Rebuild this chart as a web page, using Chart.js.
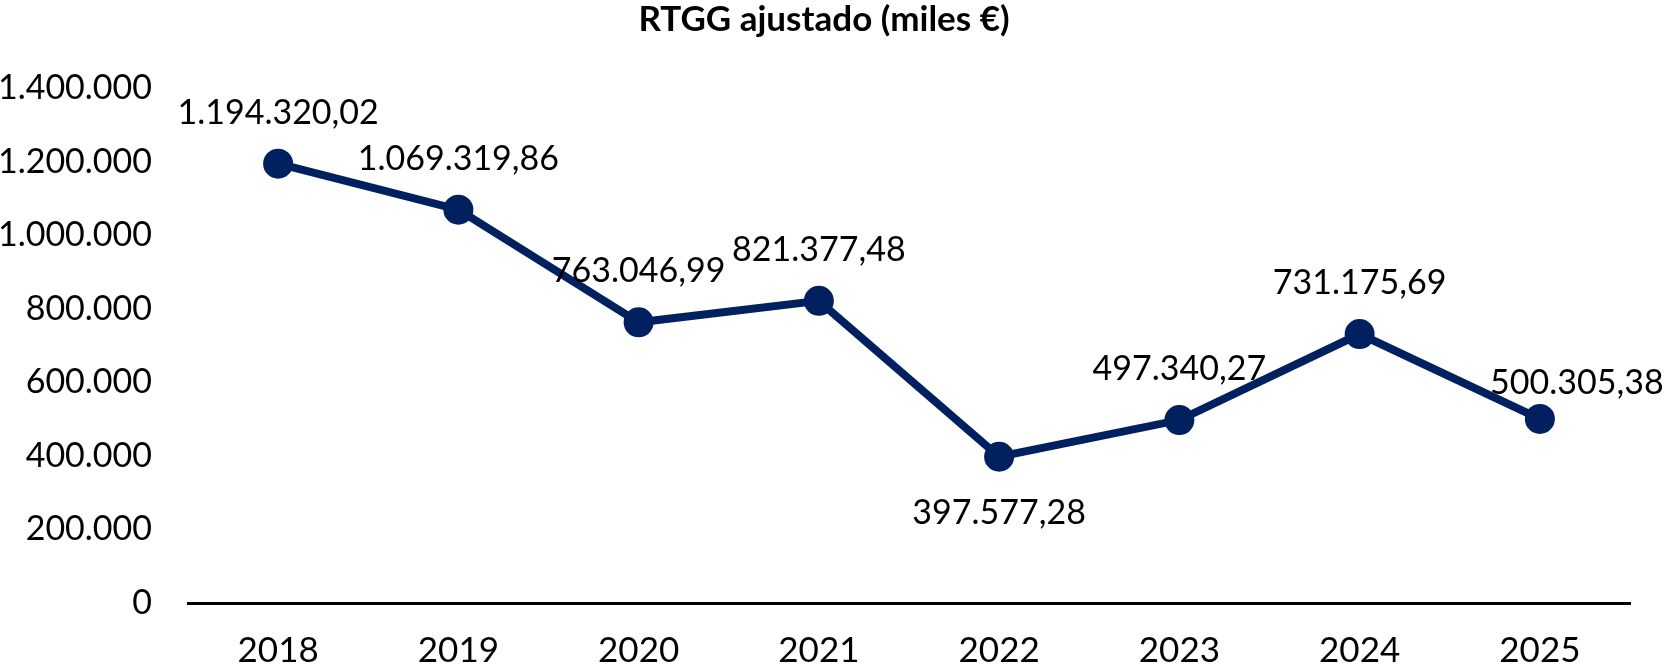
<!DOCTYPE html>
<html>
<head>
<meta charset="utf-8">
<script src="https://cdn.jsdelivr.net/npm/chart.js@4/dist/chart.umd.min.js"></script>
<style>
  html, body { margin: 0; padding: 0; background: #fff; }
  #wrap { width: 1667px; height: 671px; }
</style>
</head>
<body>
<div id="wrap"><canvas id="c"></canvas></div>
<script>
const years = ['2018', '2019', '2020', '2021', '2022', '2023', '2024', '2025'];
const rtgg = [1194320.02, 1069319.86, 763046.99, 821377.48, 397577.28, 497340.27, 731175.69, 500305.38];
const yTicks = [0, 200000, 400000, 600000, 800000, 1000000, 1200000, 1400000];

const FONT = 'Lato, "Open Sans", sans-serif';
const NAVY = '#002060';

function fmtInt(v) {
  return Math.round(v).toString().replace(/\B(?=(\d{3})+(?!\d))/g, '.');
}
function fmtDec(v) {
  const parts = v.toFixed(2).split('.');
  return parts[0].replace(/\B(?=(\d{3})+(?!\d))/g, '.') + ',' + parts[1];
}

// where each data label sits relative to its point
const labelSide = ['above', 'above', 'above', 'above', 'below', 'above', 'above', 'right'];

const labelsPlugin = {
  id: 'pointLabels',
  afterDatasetsDraw(chart) {
    const ctx = chart.ctx;
    const meta = chart.getDatasetMeta(0);
    ctx.save();
    ctx.font = '34px ' + FONT;
    ctx.fillStyle = '#000';
    ctx.textAlign = 'center';
    ctx.textBaseline = 'middle';
    meta.data.forEach((pt, i) => {
      let x = pt.x, y = pt.y - 51;
      if (labelSide[i] === 'below') y = pt.y + 56;
      if (labelSide[i] === 'right') { x = pt.x + 37; y = pt.y - 36; }
      ctx.fillText(fmtDec(rtgg[i]), x, y);
    });
    ctx.restore();
  }
};

const titlePlugin = {
  id: 'topTitle',
  afterDraw(chart) {
    const ctx = chart.ctx;
    ctx.save();
    ctx.font = 'bold 35px ' + FONT;
    ctx.fillStyle = '#000';
    ctx.textAlign = 'center';
    ctx.textBaseline = 'middle';
    ctx.fillText('RTGG ajustado (miles €)', 824, 20);
    ctx.restore();
  }
};

new Chart(document.getElementById('c'), {
  type: 'line',
  data: {
    labels: years,
    datasets: [{
      data: rtgg,
      borderColor: NAVY,
      backgroundColor: NAVY,
      borderWidth: 8,
      pointRadius: 11,
      pointHoverRadius: 11,
      pointBackgroundColor: NAVY,
      pointBorderColor: NAVY,
      tension: 0,
      clip: false
    }]
  },
  options: {
    responsive: true,
    maintainAspectRatio: false,
    animation: false,
    devicePixelRatio: 1,
    layout: { padding: { top: 88, right: 37, bottom: 0, left: 0 } },
    plugins: {
      legend: { display: false },
      tooltip: { enabled: false },
      title: { display: false }
    },
    scales: {
      x: {
        offset: true,
        afterFit(axis) { axis.height = 68; },
        grid: { display: false, drawTicks: false },
        border: { display: true, color: '#000', width: 3 },
        ticks: { color: '#000', font: { family: FONT, size: 35 }, padding: 27, maxRotation: 0 }
      },
      y: {
        min: 0,
        max: 1400000,
        afterBuildTicks(axis) { axis.ticks = yTicks.map(v => ({ value: v })); },
        afterFit(axis) { axis.width = 188; },
        grid: { display: false, drawTicks: false },
        border: { display: false },
        ticks: {
          color: '#000',
          font: { family: FONT, size: 34 },
          padding: 36,
          callback: v => fmtInt(v)
        }
      }
    }
  },
  plugins: [labelsPlugin, titlePlugin]
});
</script>
</body>
</html>
